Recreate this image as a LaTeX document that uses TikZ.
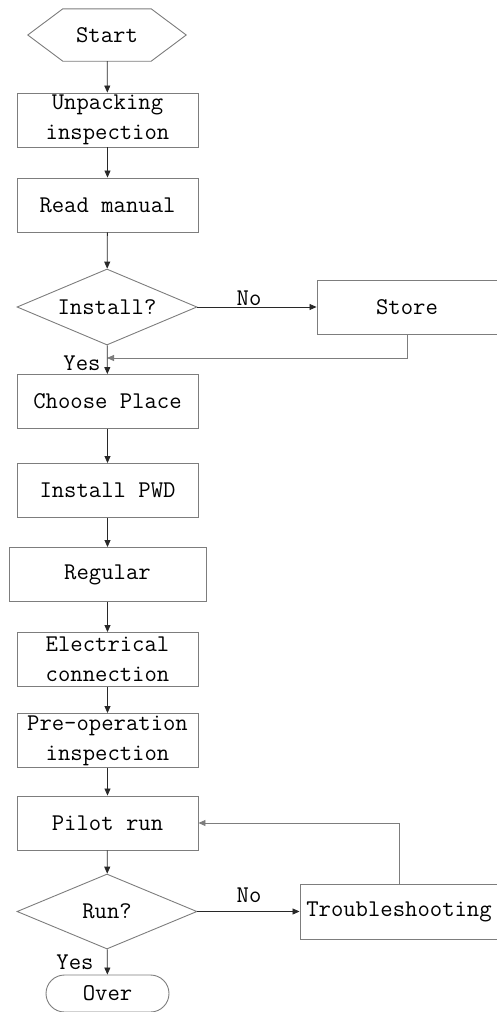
\documentclass[tikz,border=0pt]{standalone}
\usepackage{fontspec}
\usetikzlibrary{arrows.meta,shapes.geometric,calc}
\definecolor{boxgray}{RGB}{125,125,125}
\definecolor{linecol}{RGB}{40,40,40}
\begin{document}
\begin{tikzpicture}[x=1pt,y=-1pt,
  txt/.style={font=\ttfamily\fontsize{24}{30}\selectfont},
  box/.style={txt,draw=boxgray,line width=0.9pt,minimum width=181,minimum height=54,inner sep=0,align=center},
  dec/.style={txt,diamond,aspect=2.37,draw=boxgray,line width=0.9pt,minimum width=180,minimum height=76,inner sep=0},
  conn/.style={draw=linecol,line width=0.8pt,-{Triangle[length=7pt,width=6pt]}},
  back/.style={draw=boxgray,line width=0.9pt,-{Triangle[length=7pt,width=6pt]}},
  lbl/.style={txt,inner sep=0}]
\useasboundingbox (0,0) rectangle (497,1012);
% nodes
\node[txt,minimum width=158,minimum height=52,inner sep=0] (start) at (107,35) {Start};
\draw[draw=boxgray,line width=0.9pt] (start.west) -- ($(start.north west)+(35,0)$) -- ($(start.north east)+(-35,0)$) -- (start.east) -- ($(start.south east)+(-35,0)$) -- ($(start.south west)+(35,0)$) -- cycle;
\node[box] (unpack) at (107.5,120) {Unpacking\\inspection};
\node[box] (read) at (107.5,205) {Read manual};
\node[dec] (install) at (107,307) {Install?};
\node[box,minimum width=180] (store) at (407,307) {Store};
\node[box] (choose) at (107.5,401.5) {Choose Place};
\node[box] (pwd) at (107.5,490.5) {Install PWD};
\node[box,minimum width=197] (regular) at (107.5,574.5) {Regular};
\node[box] (elec) at (107.5,659.5) {Electrical\\connection};
\node[box] (preop) at (107.5,740.5) {Pre-operation\\inspection};
\node[box] (pilot) at (107.5,823) {Pilot run};
\node[dec,minimum height=75] (run) at (107,911.5) {Run?};
\node[box,minimum width=198,minimum height=55] (trouble) at (399,911.5) {Troubleshooting};
\node[box,minimum width=123,minimum height=37,rounded corners=18.5] (over) at (107.5,993.5) {Over};
% connectors
\draw[conn] (start) -- (unpack);
\draw[conn] (unpack) -- (read);
\draw[conn] (read) -- (install);
\draw[conn] (install) -- (store);
\node[lbl] (no1) at (249,298) {No};
\coordinate (j1) at (107,358);
\draw[back] (store.south) |- (j1);
\draw[conn] (install) -- (choose);
\node[lbl] (yes1) at (82,363) {Yes};
\draw[conn] (choose) -- (pwd);
\draw[conn] (pwd) -- (regular);
\draw[conn] (regular) -- (elec);
\draw[conn] (elec) -- (preop);
\draw[conn] (preop) -- (pilot);
\draw[conn] (pilot) -- (run);
\draw[conn] (run) -- (trouble);
\node[lbl] (no2) at (249,895) {No};
\draw[back] (trouble.north) |- (pilot.east);
\draw[conn] (run) -- (over);
\node[lbl] (yes2) at (75,962) {Yes};
\end{tikzpicture}
\end{document}
